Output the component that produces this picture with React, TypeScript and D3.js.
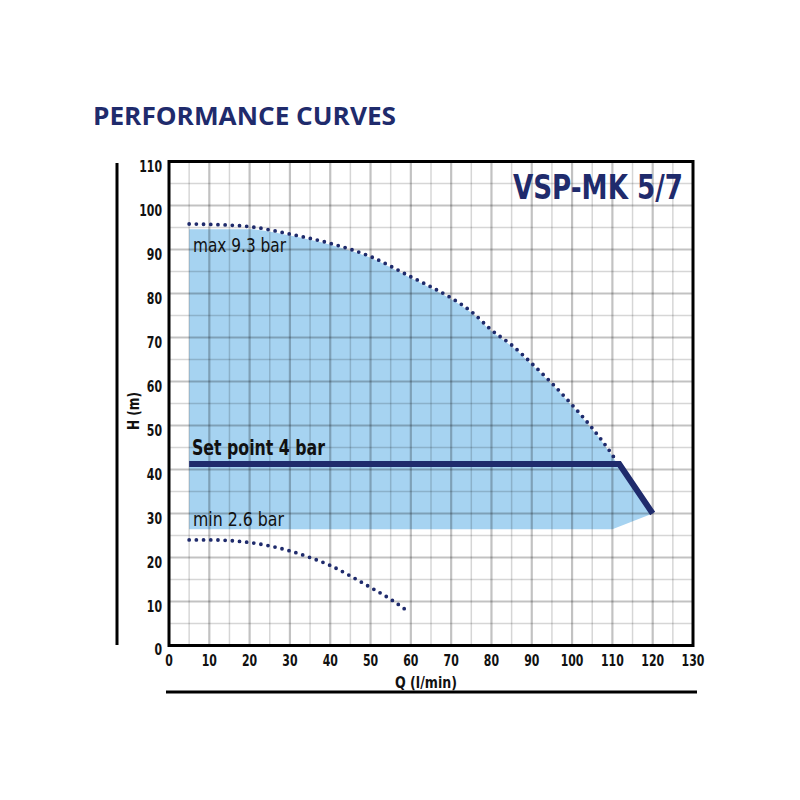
import React from "react";
import * as d3 from "d3";

const xTicks = [0, 10, 20, 30, 40, 50, 60, 70, 80, 90, 100, 110, 120, 130];
const yTicks = [0, 10, 20, 30, 40, 50, 60, 70, 80, 90, 100, 110];

const maxQ = [5, 10, 20, 30, 40, 50, 60, 65, 70, 75, 80, 85, 90, 95, 100, 105, 110, 110.8];
const maxH = [95.8, 95.7, 95.2, 93.5, 91.4, 88.4, 83.8, 81.5, 79.0, 75.9, 71.7, 68.3, 64.1, 59.6, 54.7, 49.4, 43.3, 42.2];

const minQ = [5, 10, 20, 30, 35, 40, 45, 50, 55, 58.6];
const minH = [24.0, 24.0, 23.4, 21.5, 20.0, 18.2, 15.8, 13.2, 10.5, 8.2];

const setQ = [5, 111.7, 120];
const setH = [41.25, 41.25, 30];

const fillCap = 94.6;
const fillBottomH = 26.4;
const fillBottomEndQ = 110;

const NAVY = "#1f2b6c";
const COND = "'DejaVu Sans Condensed', 'DejaVu Sans', sans-serif";

export default function App() {
  const x = d3.scaleLinear().domain([0, 130]).range([169, 693]);
  const y = d3.scaleLinear().domain([0, 110]).range([645.5, 161.5]);

  const curve = d3
    .line<[number, number]>()
    .x((d) => x(d[0]))
    .y((d) => y(d[1]))
    .curve(d3.curveMonotoneX);
  const straight = d3
    .line<[number, number]>()
    .x((d) => x(d[0]))
    .y((d) => y(d[1]));

  const maxPts: [number, number][] = maxQ.map((q, i) => [q, maxH[i]]);
  const minPts: [number, number][] = minQ.map((q, i) => [q, minH[i]]);
  const setPts: [number, number][] = setQ.map((q, i) => [q, setH[i]]);

  const topFill: [number, number][] = maxPts.map(([q, h]) => [q, Math.min(h - 0.3, fillCap)]);
  const fillPath =
    (curve(topFill) as string) +
    `L${x(setQ[1])},${y(setH[1])}` +
    `L${x(setQ[2])},${y(setH[2])}` +
    `L${x(fillBottomEndQ)},${y(fillBottomH)}` +
    `L${x(setQ[0])},${y(fillBottomH)}Z`;

  const minorX = d3.range(5, 130, 10);
  const minorY = d3.range(5, 110, 10);
  const majorX = xTicks.slice(1, -1);
  const majorY = yTicks.slice(1, -1);

  const digitW = 7.6;

  return (
    <svg
      width={800}
      height={800}
      style={{ position: "absolute", left: 0, top: 0, background: "#fff" }}
    >
      <text x={93} y={125} fontFamily="'Open Sans', sans-serif" fontWeight={700} fontSize={25} fill={NAVY} textLength={303} lengthAdjust="spacingAndGlyphs">
        PERFORMANCE CURVES
      </text>

      <path d={fillPath} fill="#a6d3f1" />

      <g>
        {minorX.map((v) => (
          <line key={"mx" + v} x1={x(v)} x2={x(v)} y1={y(0)} y2={y(110)} stroke="rgba(0,0,0,0.16)" strokeWidth={1.5} />
        ))}
        {minorY.map((v) => (
          <line key={"my" + v} x1={x(0)} x2={x(130)} y1={y(v)} y2={y(v)} stroke="rgba(0,0,0,0.16)" strokeWidth={1.5} />
        ))}
        {majorX.map((v) => (
          <line key={"Mx" + v} x1={x(v)} x2={x(v)} y1={y(0)} y2={y(110)} stroke="rgba(0,0,0,0.24)" strokeWidth={2.2} />
        ))}
        {majorY.map((v) => (
          <line key={"My" + v} x1={x(0)} x2={x(130)} y1={y(v)} y2={y(v)} stroke="rgba(0,0,0,0.24)" strokeWidth={2.2} />
        ))}
      </g>

      <rect x={x(0)} y={y(110)} width={x(130) - x(0)} height={y(0) - y(110)} fill="none" stroke="#000" strokeWidth={3} />

      <path d={curve(maxPts) as string} fill="none" stroke={NAVY} strokeWidth={3.8} strokeLinecap="round" strokeDasharray="0 7.2" />
      <path d={curve(minPts) as string} fill="none" stroke={NAVY} strokeWidth={3.8} strokeLinecap="round" strokeDasharray="0 7.2" />
      <path d={straight(setPts) as string} fill="none" stroke={NAVY} strokeWidth={6} strokeLinejoin="miter" />

      <text x={193} y={252} fontFamily={COND} fontSize={20} fill="#111" textLength={93} lengthAdjust="spacingAndGlyphs">max 9.3 bar</text>
      <text x={192} y={455} fontFamily={COND} fontWeight={700} fontSize={22} fill="#111" textLength={133} lengthAdjust="spacingAndGlyphs">Set point 4 bar</text>
      <text x={193} y={526} fontFamily={COND} fontSize={20} fill="#111" textLength={91} lengthAdjust="spacingAndGlyphs">min 2.6 bar</text>

      <text x={513} y={199} fontFamily={COND} fontWeight={700} fontSize={33} fill={NAVY} textLength={170} lengthAdjust="spacingAndGlyphs">VSP-MK 5/7</text>

      <g fontFamily={COND} fontWeight={700} fontSize={16.5} fill="#111">
        {yTicks.map((v) => {
          const s = String(v);
          const w = s.length * digitW;
          return (
            <text key={"yl" + v} x={162 - w} y={v === 0 ? 655 : y(v) + 10.5} textLength={w} lengthAdjust="spacingAndGlyphs">{s}</text>
          );
        })}
        {xTicks.map((v) => {
          const s = String(v);
          const w = s.length * digitW;
          return (
            <text key={"xl" + v} x={x(v) - w / 2} y={666} textLength={w} lengthAdjust="spacingAndGlyphs">{s}</text>
          );
        })}
        <text x={395} y={688} textLength={62} lengthAdjust="spacingAndGlyphs">Q (l/min)</text>
        <text transform={`translate(139,430) rotate(-90)`} textLength={38} lengthAdjust="spacingAndGlyphs">H (m)</text>
      </g>

      <line x1={117} x2={117} y1={163} y2={645} stroke="#000" strokeWidth={3} />
      <line x1={166} x2={697} y1={692} y2={692} stroke="#000" strokeWidth={3} />
    </svg>
  );
}
